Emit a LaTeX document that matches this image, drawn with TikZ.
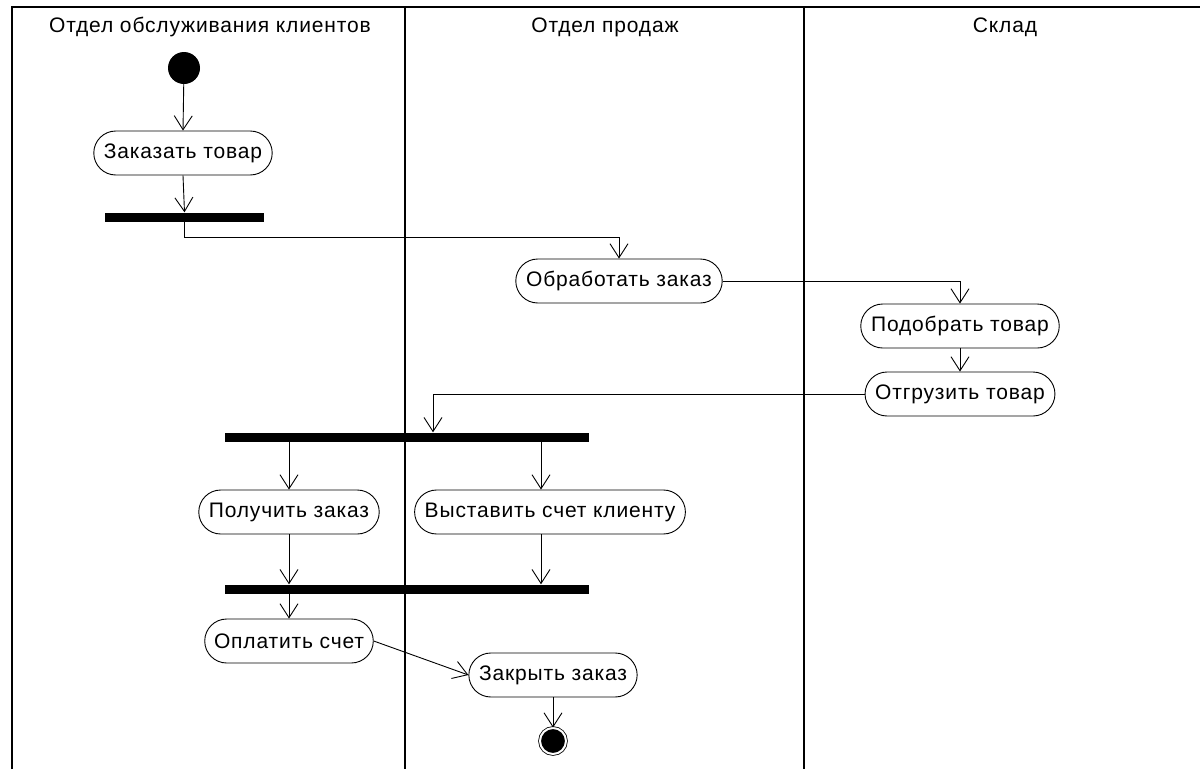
\documentclass[tikz,border=0pt]{standalone}
\usepackage{fontspec}
\setmainfont[LetterSpace=4]{Liberation Sans}
\usetikzlibrary{arrows.meta,positioning,shapes.misc}

\begin{document}
\begin{tikzpicture}[
  x=1pt, y=-1pt,
  font=\fontsize{21}{23}\selectfont,
  act/.style={draw, line width=0.9pt, rounded rectangle, minimum height=44pt, inner xsep=8pt},
  bar/.style={fill=black, inner sep=0pt, minimum height=9pt},
  arrow/.style={-{Straight Barb[length=14pt, width=18pt]}, line width=0.9pt},
  lane/.style={line width=1.8pt}
]
\useasboundingbox (0,0) rectangle (1200,769);

% swimlanes
\draw[line width=1.2pt] (12,769) -- (12,7) -- (1200,7);
\draw[lane] (405,7) -- (405,769);
\draw[lane] (804,7) -- (804,769);
\node (lane1) at (210,27) {Отдел обслуживания клиентов};
\node (lane2) at (605,27) {Отдел продаж};
\node (lane3) at (1005,27) {Склад};

% nodes
\node[circle, fill=black, minimum size=32pt, inner sep=0pt] (start) at (184,68) {};
\node[act] (order) at (183,153) {Заказать товар};
\node[bar, minimum width=159pt] (fork1) at (184.5,217) {};
\node[act] (proc) at (619,281) {Обработать заказ};
\node[act] (pick) at (960,326) {Подобрать товар};
\node[act] (ship) at (960,394) {Отгрузить товар};
\node[bar, minimum width=364pt] (fork2) at (407,437) {};
\node[act] (get) at (289,512) {Получить заказ};
\node[act] (bill) at (550,512) {Выставить счет клиенту};
\node[bar, minimum width=364pt] (join) at (407,589) {};
\node[act] (pay) at (289,641) {Оплатить счет};
\node[act] (close) at (553,675) {Закрыть заказ};
\node[circle, draw, double=white, double distance=2pt, line width=0.8pt,
  fill=black, minimum size=26pt, inner sep=0pt] (stop) at (553,741) {};

% flows
\draw[arrow] (start) -- (order.north);
\draw[arrow] (order.south) -- (fork1.north);
\draw[arrow] (fork1.south) -- ++(0,16) -| (proc.north);
\draw[arrow] (proc.east) -| (pick.north);
\draw[arrow] (pick.south) -- (ship.north);
\draw[arrow] (ship.west) -| ([xshift=26pt]fork2.north);
\draw[arrow] (get.north |- fork2.south) -- (get.north);
\draw[arrow] ([xshift=-9pt]bill.north |- fork2.south) -- ([xshift=-9pt]bill.north);
\draw[arrow] (get.south) -- (get.south |- join.north);
\draw[arrow] ([xshift=-9pt]bill.south) -- ([xshift=-9pt]bill.south |- join.north);
\draw[arrow] (pay.north |- join.south) -- (pay.north);
\draw[arrow] (pay.east) -- (close.west);
\draw[arrow] (close.south) -- (stop.north);

\end{tikzpicture}
\end{document}
